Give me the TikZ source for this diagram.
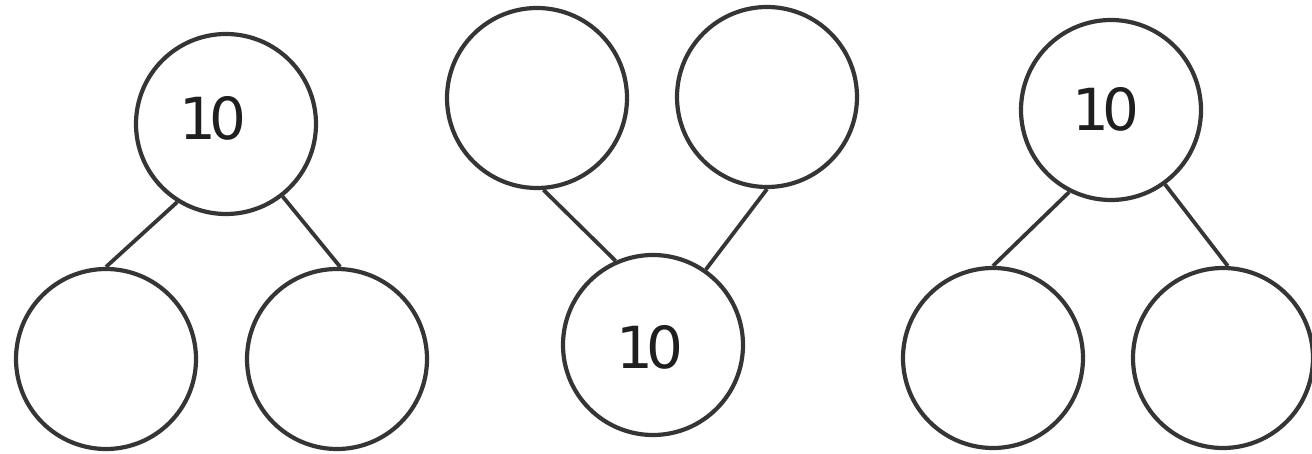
\documentclass[tikz,border=0pt]{standalone}
\usepackage{fontspec}
\setmainfont{DejaVu Sans}
\definecolor{ink}{HTML}{353535}
\newcommand{\ten}{1\kern-7pt 0}
\begin{document}
\begin{tikzpicture}[x=1pt,y=-1pt,
  ring/.style={circle,draw=ink,line width=4.2pt,minimum size=180pt,inner sep=0pt},
  num/.style={inner sep=0pt,font=\fontsize{58}{58}\selectfont,text=black!88},
  link/.style={draw=ink,line width=3.8pt}]
\useasboundingbox (0,0) rectangle (1312,454);
% group 1
\node[ring] (a) at (226,124) {};
\node[num] (an) at (213,118) {\ten};
\node[ring] (al) at (106,359) {};
\node[ring] (ar) at (337,359) {};
\draw[link] (a.238) -- (al.90);
\draw[link] (a.308) -- (ar.88);
% group 2
\node[ring] (bl) at (537,98) {};
\node[ring] (br) at (767,97) {};
\node[ring] (b) at (653,345) {};
\node[num] (bn) at (650,347) {\ten};
\draw[link] (bl.274) -- (b.114);
\draw[link] (br.270) -- (b.55);
% group 3
\node[ring] (c) at (1111,110) {};
\node[num] (cn) at (1106,109) {\ten};
\node[ring] (cl) at (993,358) {};
\node[ring] (cr) at (1223,358) {};
\draw[link] (c.243) -- (cl.90);
\draw[link] (c.306) -- (cr.87);
\end{tikzpicture}
\end{document}
